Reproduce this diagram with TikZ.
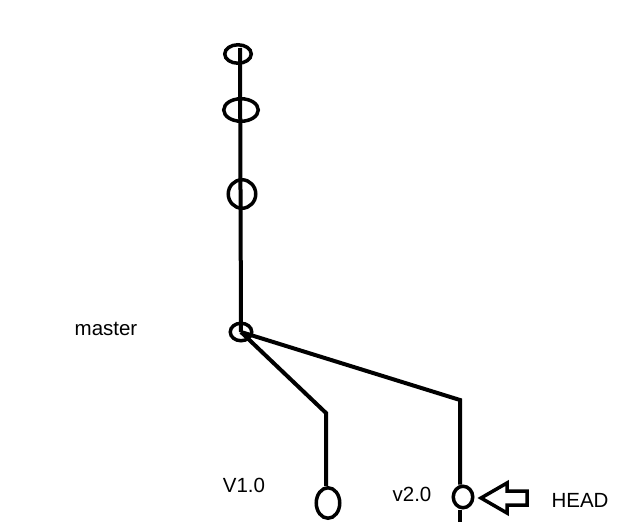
\documentclass[tikz,border=0pt]{standalone}
\usepackage{fontspec}
\setmainfont{Liberation Sans}
\usepackage{tikz}
\usetikzlibrary{shapes.geometric}

\begin{document}
\begin{tikzpicture}[
  x=1pt, y=-1pt,
  every node/.style={font=\fontsize{20.5}{24}\selectfont, inner sep=0pt},
  commit/.style={ellipse, draw, line width=3.5pt, inner sep=0pt},
  branch/.style={line width=4pt, line join=miter}
]
\useasboundingbox (0,0) rectangle (638,522);

% --- Master line (top) ---
\coordinate (top) at (240,48);
\node[commit, minimum width=26.5pt, minimum height=18.5pt] (c1) at (238,54) {};
\node[commit, minimum width=34.5pt, minimum height=22.5pt] (c2) at (241,110) {};
\node[commit, minimum width=27.5pt, minimum height=28.5pt] (c3) at (242,194) {};
\node[commit, minimum width=21.5pt, minimum height=17.5pt] (master) at (241,332) {};

% --- Tags ---
\node[commit, minimum width=23.5pt, minimum height=30.5pt] (v1) at (328,503) {};
\node[commit, minimum width=19.5pt, minimum height=21.5pt] (v2) at (463,497) {};

\coordinate (k1) at (326,413);
\coordinate (k2) at (460,400);
\coordinate (bot) at (460,522);

% --- Lines ---
\draw[branch] (top) -- (master.center);
\draw[branch] (master.center) -- (k1) -- (v1.north -| k1);
\draw[branch] (master.center) -- (k2) -- (v2.north -| k2);
\draw[branch] (v2.south -| k2) -- (bot);

% --- Labels ---
\node (lmaster) at (106,329) {master};
\node (lv1) at (244,485) {V1.0};
\node (lv2) at (412,494) {v2.0};
\node (lhead) at (580,500) {HEAD};

% --- HEAD arrow ---
\coordinate (tip) at (481,498);
\draw[line width=3.5pt, line join=miter]
  (tip) -- ++(26,-15) -- ++(0,8) -- ++(20,0) -- ++(0,14) -- ++(-20,0)
  -- ++(0,8) -- cycle;

\end{tikzpicture}
\end{document}
